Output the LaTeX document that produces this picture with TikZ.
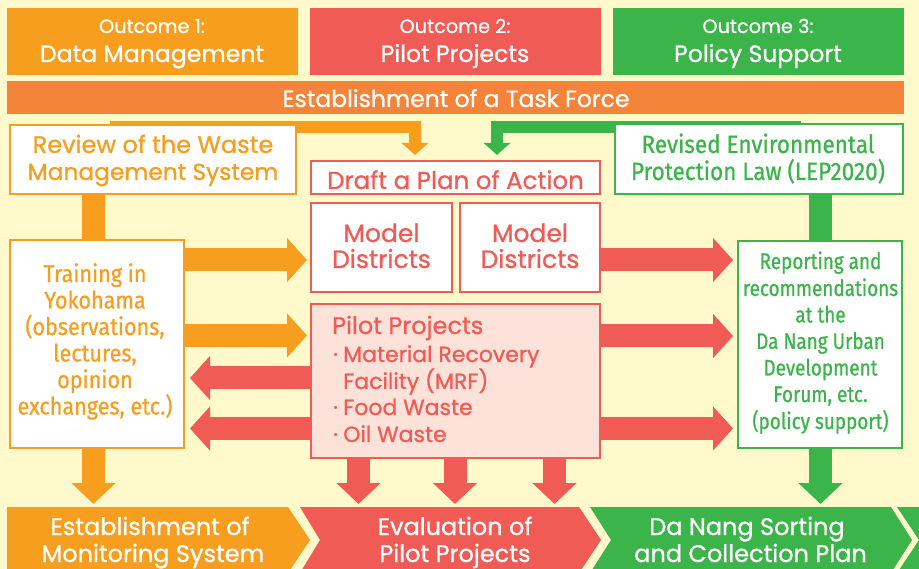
\documentclass[tikz,border=0pt]{standalone}
\usepackage{fontspec}
\setmainfont{Poppins}[FakeBold=0.9]
\newfontfamily\condf[FakeStretch=0.84,FakeBold=0.7]{Fira Sans}
\newfontfamily\condg[FakeStretch=0.9,FakeBold=0.7]{Fira Sans}
\usetikzlibrary{arrows.meta}
\definecolor{bg}{HTML}{FFF9CC}
\definecolor{org}{HTML}{F79E1E}
\definecolor{rd}{HTML}{F15B55}
\definecolor{grn}{HTML}{3BB44A}
\definecolor{tf}{HTML}{F4843A}
\definecolor{pk}{HTML}{FDE2DA}
\tikzset{
  box/.style={draw=#1, line width=2.5pt, fill=white, inner sep=0pt},
  hdr/.style={fill=#1, inner sep=0pt, minimum height=67pt, minimum width=291pt},
  blk/.style={line width=23pt, draw=#1, -{Triangle[width=43pt,length=20pt]}},
  bar/.style={line width=23pt, draw=#1},
  slim/.style={line width=12pt, draw=#1, -{Triangle[width=26pt,length=12pt]}},
  txt/.style={anchor=base, inner sep=0pt, text=#1},
  ltxt/.style={anchor=base west, inner sep=0pt, text=#1},
  big/.style={font=\fontsize{24}{28}\selectfont},
  lst/.style={font=\fontsize{22}{26}\selectfont},
  cnd/.style={font=\condf\fontsize{22.5}{26}\selectfont},
  cndb/.style={font=\condg\fontsize{24}{28}\selectfont},
  cndc/.style={font=\condg\fontsize{25}{29}\selectfont},
}
\begin{document}
\begin{tikzpicture}[x=1pt,y=-1pt]
\useasboundingbox (0,0) rectangle (919,569);
\clip (0,0) rectangle (919,569);
\fill[bg] (0,0) rectangle (919,569);

% header boxes
\node[hdr=org] (out1) at (152.5,41.5) {};
\node[hdr=rd] (out2) at (455.5,41.5) {};
\node[hdr=grn] (out3) at (758.5,41.5) {};
\node[fill=tf, inner sep=0pt, minimum width=897pt, minimum height=33pt] (tf) at (455.5,97.5) {};

% bottom chevrons
\fill[org] (7,507) -- (288,507) -- (310,540) -- (288,573) -- (7,573) -- cycle;
\fill[rd] (300,507) -- (579,507) -- (601,540) -- (579,573) -- (300,573) -- (320,540) -- cycle;
\fill[grn] (590,507) -- (891,507) -- (912,540) -- (891,573) -- (590,573) -- (611,540) -- cycle;
\fill[grn] (897,507) -- (940,507) -- (940,573) -- (897,573) -- (919,540) -- cycle;

% connectors (behind boxes)
\coordinate (oa) at (110,127);
\coordinate (oe) at (415,155);
\coordinate (ga) at (801,127);
\coordinate (ge) at (497,155);
\draw[slim=org] (oa) -| (oe);
\draw[slim=grn] (ga) -| (ge);

% boxes
\node[box=org, minimum width=286pt, minimum height=69pt] (review) at (153,159.5) {};
\node[box=rd, minimum width=289pt, minimum height=33pt] (draft) at (455.5,177.5) {};
\node[box=grn, minimum width=288pt, minimum height=70pt] (revised) at (759,159) {};
\node[box=rd, minimum width=141pt, minimum height=89pt] (m1) at (381.5,247.5) {};
\node[box=rd, minimum width=140pt, minimum height=89pt] (m2) at (530,247.5) {};
\node[box=rd, fill=pk, minimum width=289pt, minimum height=154pt] (pilot) at (455.5,381) {};
\node[box=org, minimum width=174pt, minimum height=208pt] (training) at (97,344) {};
\node[box=grn, minimum width=164pt, minimum height=207pt] (report) at (820,344.5) {};

% vertical links
\draw[bar=org] (review.south -| 93.5,0) -- (training.north -| 93.5,0);
\draw[bar=grn] (revised.south -| 820.5,0) -- (report.north -| 820.5,0);

% block arrows
\draw[blk=org] (training.east |- 0,260) -- (307,260);
\draw[blk=org] (training.east |- 0,335.5) -- (307,335.5);
\draw[blk=rd] (pilot.west |- 0,378) -- (190,378);
\draw[blk=rd] (pilot.west |- 0,428.5) -- (190,428.5);
\draw[blk=rd] (m2.east |- 0,260) -- (733,260);
\draw[blk=rd] (pilot.east |- 0,336) -- (733,336);
\draw[blk=rd] (pilot.east |- 0,428.5) -- (733,428.5);
\draw[blk=org, -{Triangle[width=43pt,length=21pt]}] (training.south -| 93.5,0) -- (93.5,504);
\draw[blk=rd, -{Triangle[width=43pt,length=21pt]}] (pilot.south -| 358.5,0) -- (358.5,504);
\draw[blk=rd, -{Triangle[width=43pt,length=21pt]}] (pilot.south -| 455,0) -- (455,504);
\draw[blk=rd, -{Triangle[width=43pt,length=21pt]}] (pilot.south -| 554.5,0) -- (554.5,504);
\draw[blk=grn, -{Triangle[width=43pt,length=21pt]}] (report.south -| 820.5,0) -- (820.5,504);

% header texts
\begin{scope}[font=\fontsize{19.3}{23}\selectfont]
\node[txt=white] (t1a) at (152,33) {Outcome 1:};
\node[txt=white] (t2a) at (455,33) {Outcome 2:};
\node[txt=white] (t3a) at (758,33) {Outcome 3:};
\end{scope}
\begin{scope}[font=\fontsize{23.6}{28}\selectfont]
\node[txt=white] (t1b) at (152,62) {Data Management};
\node[txt=white] (t2b) at (455,62) {Pilot Projects};
\node[txt=white] (t3b) at (758,62) {Policy Support};
\end{scope}
\node[txt=white, font=\fontsize{23.5}{28}\selectfont] (ttf) at (456,107) {Establishment of a Task Force};

\node[txt=org, big] (rv1) at (153,153) {Review of the Waste};
\node[txt=org, font=\fontsize{23.3}{28}\selectfont] (rv2) at (153,180) {Management System};
\node[txt=rd, font=\fontsize{24.5}{28}\selectfont] (dr) at (455.5,189) {Draft a Plan of Action};
\node[txt=grn, cndc] (rs1) at (758,153) {Revised Environmental};
\node[txt=grn, cndc] (rs2) at (758,180) {Protection Law (LEP2020)};
\begin{scope}[font=\fontsize{25}{29}\selectfont]
\node[txt=rd] (md1) at (381.5,242) {Model};
\node[txt=rd] (md2) at (381.5,268) {Districts};
\node[txt=rd] (md3) at (530,242) {Model};
\node[txt=rd] (md4) at (530,268) {Districts};
\end{scope}

\node[ltxt=rd, big] (pp0) at (332,334) {Pilot Projects};
\node[ltxt=rd, lst] (pb1) at (333,362) {·};
\node[ltxt=rd, lst] (pp1) at (343,362) {Material Recovery};
\node[ltxt=rd, lst] (pp2) at (343,389) {Facility (MRF)};
\node[ltxt=rd, lst] (pb3) at (333,415) {·};
\node[ltxt=rd, lst] (pp3) at (343,415) {Food Waste};
\node[ltxt=rd, lst] (pb4) at (333,442) {·};
\node[ltxt=rd, lst] (pp4) at (343,442) {Oil Waste};

\begin{scope}[cndb]
\node[txt=org] (tr1) at (95,282) {Training in};
\node[txt=org] (tr2) at (95,308.5) {Yokohama};
\node[txt=org] (tr3) at (95,335) {(observations,};
\node[txt=org] (tr4) at (95,361.5) {lectures,};
\node[txt=org] (tr5) at (95,388) {opinion};
\node[txt=org] (tr6) at (95,414.5) {exchanges, etc.)};
\end{scope}
\begin{scope}[cnd]
\node[txt=grn] (rp1) at (820.5,269) {Reporting and};
\node[txt=grn] (rp2) at (820.5,296) {recommendations};
\node[txt=grn] (rp3) at (820.5,322.5) {at the};
\node[txt=grn] (rp4) at (820.5,349) {Da Nang Urban};
\node[txt=grn] (rp5) at (820.5,375.5) {Development};
\node[txt=grn] (rp6) at (820.5,402) {Forum, etc.};
\node[txt=grn] (rp7) at (820.5,429) {(policy support)};
\end{scope}

\node[txt=white, big] (b1) at (150,535) {Establishment of};
\node[txt=white, big] (b2) at (153,562) {Monitoring System};
\node[txt=white, big] (b3) at (455,535) {Evaluation of};
\node[txt=white, big] (b4) at (455,562) {Pilot Projects};
\node[txt=white, big] (b5) at (747,535) {Da Nang Sorting};
\node[txt=white, big] (b6) at (750.5,562) {and Collection Plan};
\end{tikzpicture}
\end{document}
